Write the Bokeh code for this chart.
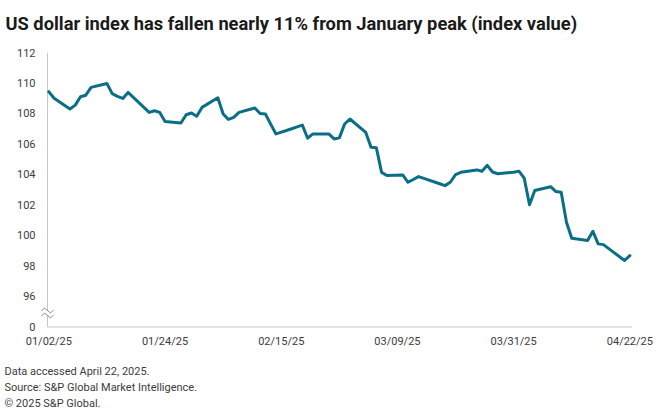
import pandas as pd
from bokeh.plotting import figure
from bokeh.models import (FixedTicker, DatetimeTickFormatter, Range1d,
                          ColumnDataSource, Title)
from bokeh.embed import file_html
from bokeh.resources import INLINE

# ---------------- data ----------------
dates = [
    "2025-01-02", "2025-01-03", "2025-01-06", "2025-01-07", "2025-01-08", "2025-01-09",
    "2025-01-10", "2025-01-13", "2025-01-14", "2025-01-15", "2025-01-16", "2025-01-17",
    "2025-01-20", "2025-01-21", "2025-01-22", "2025-01-23", "2025-01-24", "2025-01-27",
    "2025-01-28", "2025-01-29", "2025-01-30", "2025-01-31", "2025-02-03", "2025-02-04",
    "2025-02-05", "2025-02-06", "2025-02-07", "2025-02-10", "2025-02-11", "2025-02-12",
    "2025-02-13", "2025-02-14", "2025-02-17", "2025-02-18", "2025-02-19", "2025-02-20",
    "2025-02-21", "2025-02-24", "2025-02-25", "2025-02-26", "2025-02-27", "2025-02-28",
    "2025-03-03", "2025-03-04", "2025-03-05", "2025-03-06", "2025-03-07", "2025-03-10",
    "2025-03-11", "2025-03-12", "2025-03-13", "2025-03-14", "2025-03-17", "2025-03-18",
    "2025-03-19", "2025-03-20", "2025-03-21", "2025-03-24", "2025-03-25", "2025-03-26",
    "2025-03-27", "2025-03-28", "2025-03-31", "2025-04-01", "2025-04-02", "2025-04-03",
    "2025-04-04", "2025-04-07", "2025-04-08", "2025-04-09", "2025-04-10", "2025-04-11",
    "2025-04-14", "2025-04-15", "2025-04-16", "2025-04-17", "2025-04-18", "2025-04-21",
    "2025-04-22",
]
index_values = [
    109.43, 109.00, 108.29, 108.55, 109.10, 109.20,
    109.71, 109.97, 109.30, 109.12, 108.99, 109.38,
    108.40, 108.07, 108.18, 108.07, 107.48, 107.38,
    107.92, 108.03, 107.82, 108.40, 109.03, 107.97,
    107.61, 107.74, 108.07, 108.36, 108.00, 107.97,
    107.30, 106.66, 107.00, 107.12, 107.24, 106.38,
    106.66, 106.66, 106.33, 106.40, 107.31, 107.64,
    106.76, 105.78, 105.76, 104.14, 103.93, 103.97,
    103.49, 103.67, 103.86, 103.74, 103.39, 103.27,
    103.49, 103.99, 104.14, 104.30, 104.21, 104.60,
    104.16, 104.05, 104.15, 104.22, 103.76, 102.01,
    102.95, 103.20, 102.88, 102.83, 100.87, 99.82,
    99.67, 100.28, 99.45, 99.40, 99.14, 98.36,
    98.68,
]
x_tick_dates = ["2025-01-02", "2025-01-24", "2025-02-15", "2025-03-09", "2025-03-31", "2025-04-22"]
y_ticks = [94, 96, 98, 100, 102, 104, 106, 108, 110, 112]
y_tick_labels = ["0", "96", "98", "100", "102", "104", "106", "108", "110", "112"]

title_text = "US dollar index has fallen nearly 11% from January peak (index value)"
notes = ["Data accessed April 22, 2025.",
         "Source: S&P Global Market Intelligence.",
         "\u00a9 2025 S&P Global."]

# ---------------- layout ----------------
W, H = 660, 419
ML, MR, MT, MB = 37, 28, 52, 91          # frame: x 37..632, y 52..328
FONT = "Roboto"
LINE_COLOR = "#0b6e87"
TEXT_COLOR = "#3c3c3c"
AXIS_COLOR = "#c6c6c6"

DAY = pd.Timedelta(days=1)
axis_x = pd.Timestamp(dates[0]) - 0.25 * DAY             # where the y axis line sits
px_per_day = (632 - 47) / 110.75
x_start = axis_x - (47 - ML) / px_per_day * DAY
x_end = pd.Timestamp(dates[-1]) + 0.5 * DAY
y_base = y_ticks[0]
y_start = y_base - 0.1
px_per_unit = (H - MB - MT) / (y_ticks[-1] - y_start)

src = ColumnDataSource(dict(date=pd.to_datetime(dates), v=index_values))

p = figure(width=W, height=H, x_axis_type="datetime", output_backend="svg",
           toolbar_location=None, x_range=Range1d(x_start, x_end),
           y_range=Range1d(y_start, y_ticks[-1]),
           min_border_left=ML, min_border_right=MR, min_border_top=MT,
           min_border_bottom=MB, background_fill_color="white",
           border_fill_color="white")
p.outline_line_color = None
p.xgrid.visible = False
p.ygrid.visible = False

# axis lines drawn as thin lines starting at the axis corner
p.line([axis_x, x_end], [y_base, y_base], line_color=AXIS_COLOR, line_width=1)
p.line([axis_x, axis_x], [y_base, y_ticks[-1]], line_color=AXIS_COLOR, line_width=1)

# axis-break symbol (decoration)
def dx(px):
    return axis_x + (px - 47) / px_per_day * DAY


def dy(py):
    return y_start + (H - MB - py) / px_per_unit


upper = [(41, 310.5), (44, 307.5), (50, 312.5), (53, 309.5)]
lower = [(41, 315.5), (44, 312.5), (50, 317.5), (53, 314.5)]
blank = upper + lower[::-1]
p.patch([dx(a) for a, b in blank], [dy(b) for a, b in blank],
        fill_color="white", line_color=None)
for zz in (upper, lower):
    p.line([dx(a) for a, b in zz], [dy(b) for a, b in zz],
           line_color="#8c8c8c", line_width=1)

# data line
p.line("date", "v", source=src, line_color=LINE_COLOR, line_width=3,
       line_join="round", line_cap="round")

# axes
for ax in (p.xaxis[0], p.yaxis[0]):
    ax.axis_line_color = None
    ax.major_tick_line_color = None
    ax.minor_tick_line_color = None
    ax.major_tick_out = 0
    ax.major_tick_in = 0
    ax.minor_tick_out = 0
    ax.minor_tick_in = 0
    ax.major_label_text_font = FONT
    ax.major_label_text_font_size = "11px"
    ax.major_label_text_color = TEXT_COLOR

p.xaxis.ticker = FixedTicker(ticks=[pd.Timestamp(d).value // 10**6 for d in x_tick_dates])
fmt = "%m/%d/%y"
p.xaxis.formatter = DatetimeTickFormatter(
    microseconds=fmt, milliseconds=fmt, seconds=fmt, minsec=fmt, minutes=fmt,
    hourmin=fmt, hours=fmt, days=fmt, months=fmt, years=fmt)
p.xaxis.major_label_standoff = 6

p.yaxis.ticker = FixedTicker(ticks=y_ticks)
p.yaxis.major_label_overrides = {t: l for t, l in zip(y_ticks, y_tick_labels)}
p.yaxis.major_label_standoff = 2

# top panel: spacer (nearest the frame) then the title
p.add_layout(Title(text=" ", text_font=FONT, text_font_size="10px",
                   align="left", standoff=2.6), "above")
p.add_layout(Title(text=title_text, text_font=FONT, text_font_size="18.3px",
                   text_font_style="bold", text_color="#1a1a1a", align="left",
                   offset=5 - ML, vertical_align="top", standoff=2), "above")

# bottom panel: spacer then the footnotes, stacked under the x axis
p.add_layout(Title(text=" ", text_font=FONT, text_font_size="7px",
                   align="left", standoff=2.6), "below")
for txt in notes:
    p.add_layout(Title(text=txt, text_font=FONT, text_font_size="11px",
                       text_font_style="normal", text_color=TEXT_COLOR,
                       align="left", offset=4 - ML, vertical_align="middle",
                       standoff=1.0), "below")

open("out.html", "w").write(file_html(p, INLINE))
